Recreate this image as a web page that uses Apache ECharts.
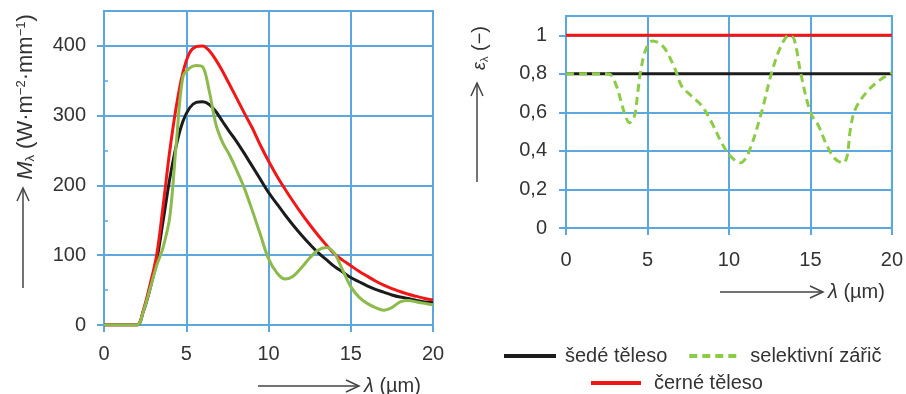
<!DOCTYPE html>
<html><head><meta charset="utf-8">
<script src="https://cdn.jsdelivr.net/npm/echarts@6/dist/echarts.min.js"></script>
<style>html,body{margin:0;padding:0;background:#fff}#c{width:906px;height:394px}</style>
</head><body><div id="c"></div>
<script>
// ---- data ----
const lambdaLeft = [0, 1, 2, 2.4, 2.8, 3.2, 3.6, 4.0, 4.4, 4.8, 5.2, 5.6, 6.0, 6.4, 6.8, 7.2, 7.6, 8.0, 8.5, 9.0, 9.5, 10, 10.5, 11, 11.5, 12, 12.5, 13, 13.5, 14, 14.5, 15, 15.5, 16, 16.5, 17, 17.5, 18, 18.5, 19, 19.5, 20];
const mBlackBody = [0, 0, 0, 22, 58, 100, 172, 250, 314, 362, 390, 399, 400, 393, 380, 364, 346, 328, 305, 283, 258, 235, 214, 195, 177, 160, 144, 129, 115, 102, 93, 85, 77, 70, 63, 57, 52, 48, 44, 41, 38, 36];
const mGreyBody = [0, 0, 0, 20, 52, 92, 150, 210, 258, 292, 311, 319, 320, 316, 306, 292, 278, 265, 247, 228, 209, 190, 174, 158, 143, 129, 116, 104, 94, 84, 76, 68, 62, 56, 51, 47, 43, 40, 38, 35, 33, 32];
const mSelective = [0, 0, 0, 20, 52, 85, 112, 155, 262, 356, 368, 372, 370, 335, 288, 262, 245, 225, 198, 165, 130, 95, 75, 66, 70, 82, 96, 107, 111, 103, 79, 55, 40, 31, 25, 21, 25, 33, 35, 33, 31, 29];

const lambdaRight = [0, 1, 2, 2.4, 2.7, 3.1, 3.4, 3.65, 3.9, 4.2, 4.4, 4.6, 4.9, 5.3, 5.7, 6.1, 6.7, 7.1, 7.7, 8.35, 8.95, 9.55, 10.1, 10.7, 11.2, 12.0, 12.6, 13.2, 13.7, 14.0, 14.4, 15.0, 15.5, 16.0, 16.5, 17.0, 17.25, 17.45, 17.75, 18.5, 19.3, 20];
const epsSelective = [0.8, 0.8, 0.8, 0.8, 0.797, 0.736, 0.65, 0.58, 0.546, 0.58, 0.70, 0.823, 0.927, 0.97, 0.96, 0.927, 0.823, 0.736, 0.685, 0.632, 0.546, 0.442, 0.372, 0.338, 0.39, 0.6, 0.8, 0.945, 1.0, 0.98, 0.806, 0.6, 0.53, 0.43, 0.36, 0.338, 0.372, 0.51, 0.615, 0.71, 0.77, 0.806];
const lambdaFlat = [0, 20];
const epsGrey = [0.8, 0.8];
const epsBlack = [1, 1];

const xTicks = [0, 5, 10, 15, 20];
const leftYTicks = [0, 100, 200, 300, 400];
const leftYMinorTicks = [50, 150, 250, 350];
const rightYTicks = [0, 0.2, 0.4, 0.6, 0.8, 1];

const names = { grey: 'šedé těleso', selective: 'selektivní zářič', black: 'černé těleso' };

// ---- styling ----
const FONT = "'Liberation Sans', Arial, sans-serif";
const BLUE = '#5ba7de';
const TXT = '#333333';
const RED = '#f21616';
const BLK = '#1c1c1c';
const GREEN_L = '#8cba4c';
const GREEN_R = '#8ccb46';

const zip = (xs, ys) => xs.map((x, i) => [x, ys[i]]);
const fmtComma = v => String(+(+v).toFixed(1)).replace('.', ',');

function xAxisCfg(gi, margin) {
  return {
    type: 'value', gridIndex: gi, min: 0, max: 20, interval: 5,
    axisLine: { show: true, lineStyle: { color: BLUE, width: 2 } },
    axisTick: { show: true, length: 7, lineStyle: { color: BLUE, width: 2 }, customValues: xTicks },
    axisLabel: { margin: margin, fontSize: 20, color: TXT, fontFamily: FONT, customValues: xTicks },
    splitLine: { show: true, lineStyle: { color: BLUE, width: 2 } }
  };
}

const legendCommon = {
  itemHeight: 14, selectedMode: false, padding: 0,
  lineStyle: { width: 4 },
  itemStyle: { opacity: 0, borderWidth: 0 }
};

const chart = echarts.init(document.getElementById('c'));
chart.setOption({
  animation: false,
  backgroundColor: '#fff',
  grid: [
    { left: 104, top: 11, width: 329, height: 314, show: true, borderColor: BLUE, borderWidth: 2 },
    { left: 566, top: 16, width: 329, height: 212, show: true, borderColor: BLUE, borderWidth: 2 }
  ],
  xAxis: [xAxisCfg(0, 19), xAxisCfg(1, 22)],
  yAxis: [
    {
      type: 'value', gridIndex: 0, min: 0, max: 450, interval: 100,
      axisLine: { show: true, lineStyle: { color: BLUE, width: 2 } },
      axisTick: { show: true, length: 7, lineStyle: { color: BLUE, width: 2 }, customValues: leftYTicks },
      axisLabel: { margin: 18, fontSize: 20, color: TXT, fontFamily: FONT, customValues: leftYTicks },
      splitLine: { show: true, lineStyle: { color: BLUE, width: 2 } }
    },
    {
      type: 'value', gridIndex: 0, min: 0, max: 450, interval: 50, position: 'left',
      axisLine: { show: false },
      axisTick: { show: true, inside: true, length: 4, lineStyle: { color: BLUE, width: 1.5 }, customValues: leftYMinorTicks },
      axisLabel: { show: false },
      splitLine: { show: false }
    },
    {
      type: 'value', gridIndex: 1, min: 0, max: 1.1, interval: 0.2,
      axisLine: { show: true, lineStyle: { color: BLUE, width: 2 } },
      axisTick: { show: true, length: 7, lineStyle: { color: BLUE, width: 2 }, customValues: rightYTicks },
      axisLabel: { margin: 19, fontSize: 20, color: TXT, fontFamily: FONT, customValues: rightYTicks, formatter: fmtComma },
      splitLine: { show: true, lineStyle: { color: BLUE, width: 2 } }
    }
  ],
  legend: [
    Object.assign({}, legendCommon, {
      data: [names.grey, names.selective], left: 502, top: 346, itemWidth: 52, itemGap: 20,
      textStyle: { fontSize: 20, color: TXT, fontFamily: FONT, padding: [0, 0, 0, 4] }
    }),
    Object.assign({}, legendCommon, {
      data: [names.black], left: 589, top: 373, itemWidth: 50,
      textStyle: { fontSize: 20, color: TXT, fontFamily: FONT, padding: [0, 0, 0, 8] }
    })
  ],
  series: [
    // right chart (legend takes its styles from these)
    { name: names.black, type: 'line', xAxisIndex: 1, yAxisIndex: 2, data: zip(lambdaFlat, epsBlack),
      symbol: 'none', lineStyle: { color: RED, width: 3 }, itemStyle: { color: RED } },
    { name: names.grey, type: 'line', xAxisIndex: 1, yAxisIndex: 2, data: zip(lambdaFlat, epsGrey),
      symbol: 'none', lineStyle: { color: BLK, width: 3 }, itemStyle: { color: BLK } },
    { name: names.selective, type: 'line', xAxisIndex: 1, yAxisIndex: 2, data: zip(lambdaRight, epsSelective),
      symbol: 'none', smooth: 0.35, lineStyle: { color: GREEN_R, width: 3, type: [8, 5] }, itemStyle: { color: GREEN_R } },
    // left chart
    { name: 'M ' + names.grey, type: 'line', xAxisIndex: 0, yAxisIndex: 0, data: zip(lambdaLeft, mGreyBody),
      symbol: 'none', smooth: 0.35, lineStyle: { color: BLK, width: 3 } },
    { name: 'M ' + names.black, type: 'line', xAxisIndex: 0, yAxisIndex: 0, data: zip(lambdaLeft, mBlackBody),
      symbol: 'none', smooth: 0.35, lineStyle: { color: RED, width: 3 } },
    { name: 'M ' + names.selective, type: 'line', xAxisIndex: 0, yAxisIndex: 0, data: zip(lambdaLeft, mSelective),
      symbol: 'none', smooth: 0.35, lineStyle: { color: GREEN_L, width: 3 } }
  ],
  graphic: [
    // left x-axis title with arrow
    { type: 'line', shape: { x1: 258, y1: 386, x2: 359, y2: 386 }, style: { stroke: '#444', lineWidth: 1.5 } },
    { type: 'polyline', shape: { points: [[346, 380], [359, 386], [346, 392]] }, style: { stroke: '#444', lineWidth: 1.5, fill: null } },
    { type: 'text', x: 364, y: 386, style: { text: '{i|λ} (µm)', rich: { i: { fontStyle: 'italic', fontSize: 20, fontFamily: FONT, fill: TXT } },
      fontSize: 20, fontFamily: FONT, fill: TXT, align: 'left', verticalAlign: 'middle' } },
    // right x-axis title with arrow
    { type: 'line', shape: { x1: 720, y1: 292, x2: 823, y2: 292 }, style: { stroke: '#444', lineWidth: 1.5 } },
    { type: 'polyline', shape: { points: [[810, 286], [823, 292], [810, 298]] }, style: { stroke: '#444', lineWidth: 1.5, fill: null } },
    { type: 'text', x: 828, y: 292, style: { text: '{i|λ} (µm)', rich: { i: { fontStyle: 'italic', fontSize: 20, fontFamily: FONT, fill: TXT } },
      fontSize: 20, fontFamily: FONT, fill: TXT, align: 'left', verticalAlign: 'middle' } },
    // left y-axis title with arrow
    { type: 'line', shape: { x1: 23, y1: 288, x2: 23, y2: 188 }, style: { stroke: '#444', lineWidth: 1.5 } },
    { type: 'polyline', shape: { points: [[17, 201], [23, 188], [29, 201]] }, style: { stroke: '#444', lineWidth: 1.5, fill: null } },
    { type: 'text', x: 26, y: 97, rotation: Math.PI / 2,
      style: { text: '{m|M}{s|λ} (W·m{p|−2}·mm{p|−1})',
        rich: {
          m: { fontStyle: 'italic', fontSize: 22, fontFamily: FONT, fill: TXT },
          s: { fontSize: 13, fontFamily: FONT, fill: TXT, verticalAlign: 'bottom', padding: [9, 0, 0, 0] },
          p: { fontSize: 13, fontFamily: FONT, fill: TXT, verticalAlign: 'top', padding: [0, 0, 9, 0] }
        },
        fontSize: 22, fontFamily: FONT, fill: TXT, align: 'center', verticalAlign: 'middle' } },
    // right y-axis title with arrow
    { type: 'line', shape: { x1: 477, y1: 182, x2: 477, y2: 83 }, style: { stroke: '#444', lineWidth: 1.5 } },
    { type: 'polyline', shape: { points: [[471, 96], [477, 83], [483, 96]] }, style: { stroke: '#444', lineWidth: 1.5, fill: null } },
    { type: 'text', x: 480, y: 48, rotation: Math.PI / 2,
      style: { text: '{e|ε}{s|λ} (−)',
        rich: {
          e: { fontStyle: 'italic', fontSize: 18, fontFamily: FONT, fill: TXT },
          s: { fontSize: 11, fontFamily: FONT, fill: TXT, verticalAlign: 'bottom', padding: [8, 0, 0, 0] }
        },
        fontSize: 20, fontFamily: FONT, fill: TXT, align: 'center', verticalAlign: 'middle' } }
  ]
});
</script>
</body></html>
